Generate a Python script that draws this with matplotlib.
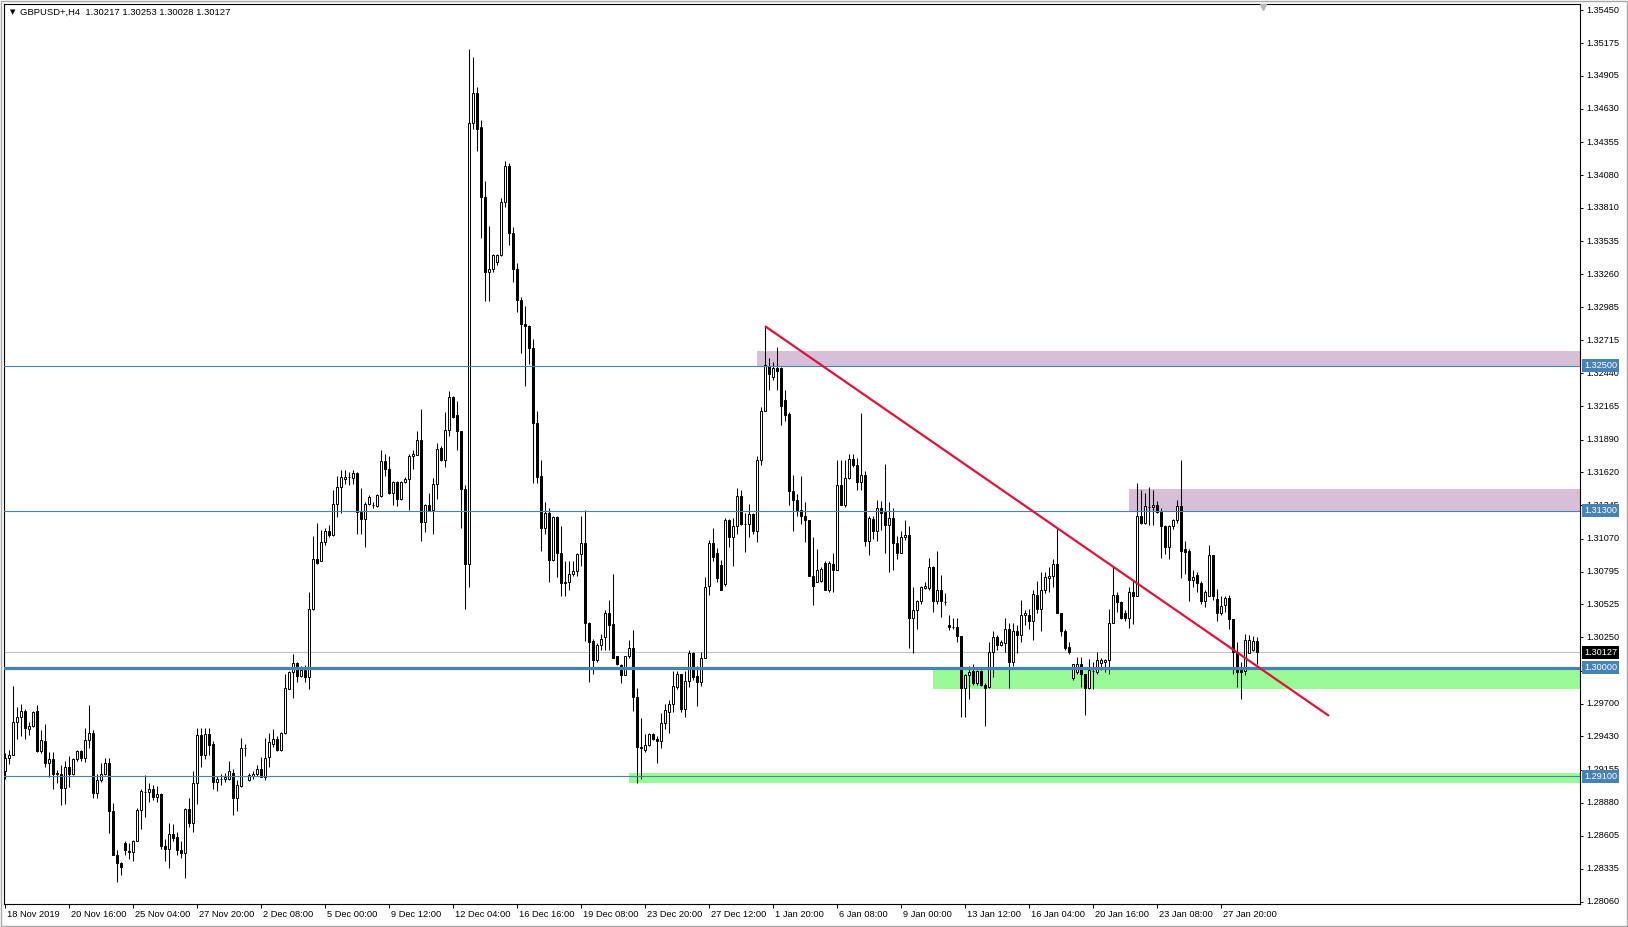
"""
GBPUSD+ H4 candlestick chart (MT4 style) with S/R levels, zones and a trendline.
Saves out.png (1628x927).
"""
import numpy as np
import matplotlib.pyplot as plt
from matplotlib import transforms
from matplotlib.patches import Rectangle

plt.rcParams['font.family'] = ['Liberation Sans', 'DejaVu Sans']

BASE, PIP = 1.2800, 0.0001   # bars below are in pips above 1.2800

# H4 bars (pips above 1.2800)
opens = [
    114, 125, 128, 155, 159, 164, 149, 152, 164, 131, 139, 121, 124, 113, 112, 100, 118, 112, 124, 131,
    125, 140, 146, 96, 107, 112, 121, 81, 45, 38, 55, 48, 47, 56, 82, 97, 97, 99, 93, 95,
    52, 50, 62, 60, 49, 46, 83, 71, 104, 144, 128, 145, 137, 105, 108, 108, 108, 113, 92, 102,
    133, 107, 110, 112, 116, 109, 126, 137, 141, 132, 146, 182, 196, 204, 193, 198, 192, 249, 290, 288,
    304, 313, 310, 336, 350, 356, 358, 357, 361, 329, 323, 336, 335, 334, 342, 371, 365, 345, 354, 340,
    354, 356, 375, 376, 389, 321, 335, 331, 352, 382, 372, 397, 424, 409, 396, 348, 286, 651, 676, 648,
    590, 528, 530, 536, 542, 586, 616, 560, 530, 505, 485, 483, 465, 403, 359, 316, 328, 289, 325, 295,
    270, 271, 278, 280, 294, 303, 237, 222, 206, 219, 225, 245, 236, 210, 202, 194, 210, 216, 176, 134,
    132, 136, 145, 141, 139, 154, 163, 170, 184, 195, 166, 189, 212, 193, 188, 208, 268, 303, 295, 285,
    269, 322, 308, 317, 342, 319, 319, 327, 313, 372, 413, 450, 441, 448, 448, 422, 410, 346, 339, 331,
    326, 322, 276, 271, 272, 287, 264, 286, 281, 351, 335, 357, 373, 368, 354, 360, 305, 323, 313, 332,
    329, 318, 324, 303, 295, 308, 310, 241, 248, 255, 266, 266, 283, 255, 264, 254, 235, 234, 234, 226,
    183, 194, 197, 187, 197, 186, 184, 213, 225, 219, 220, 232, 205, 230, 227, 244, 244, 239, 260, 249,
    264, 274, 276, 286, 245, 230, 217, 191, 196, 203, 195, 183, 197, 196, 204, 205, 206, 237, 260, 254,
    245, 241, 263, 259, 326, 320, 333, 333, 335, 329, 317, 300, 317, 322, 334, 298, 297, 273, 277, 270,
    255, 259, 293, 257, 245, 252, 258, 240, 213, 198, 197, 212, 215, 222,
]
highs = [
    129, 132, 185, 167, 170, 166, 155, 164, 169, 148, 153, 130, 130, 115, 119, 123, 127, 125, 132, 132,
    150, 169, 148, 112, 121, 125, 125, 88, 49, 39, 56, 55, 57, 84, 99, 111, 104, 103, 102, 96,
    58, 71, 70, 64, 56, 84, 92, 114, 150, 150, 150, 150, 139, 110, 112, 113, 123, 116, 107, 142,
    137, 113, 114, 119, 126, 142, 146, 149, 143, 147, 195, 197, 211, 205, 201, 202, 263, 309, 320, 314,
    316, 318, 347, 359, 364, 364, 362, 364, 362, 349, 337, 343, 337, 344, 380, 377, 375, 355, 355, 355,
    358, 377, 380, 396, 414, 336, 345, 357, 386, 384, 412, 429, 425, 421, 396, 351, 713, 706, 681, 654,
    603, 566, 543, 543, 589, 620, 618, 565, 535, 507, 500, 484, 472, 413, 372, 337, 332, 326, 326, 317,
    288, 288, 288, 295, 326, 331, 238, 224, 220, 228, 248, 256, 278, 210, 203, 210, 223, 231, 183, 158,
    145, 146, 146, 143, 162, 170, 173, 197, 197, 195, 197, 215, 213, 201, 213, 275, 306, 316, 299, 289,
    324, 323, 324, 349, 347, 328, 336, 328, 375, 416, 483, 457, 453, 466, 449, 430, 412, 360, 344, 359,
    337, 322, 308, 298, 283, 288, 288, 295, 372, 372, 372, 377, 377, 374, 411, 363, 326, 326, 339, 338,
    369, 337, 332, 309, 313, 322, 317, 267, 256, 268, 271, 291, 284, 297, 277, 262, 244, 241, 241, 226,
    195, 201, 203, 198, 198, 187, 221, 230, 227, 223, 241, 237, 237, 235, 256, 248, 249, 264, 272, 279,
    279, 283, 290, 316, 245, 232, 221, 203, 209, 209, 195, 207, 205, 213, 208, 207, 249, 284, 263, 255,
    248, 267, 272, 353, 347, 345, 350, 347, 338, 332, 318, 318, 323, 339, 372, 305, 298, 281, 279, 272,
    264, 302, 293, 265, 259, 259, 260, 240, 221, 205, 228, 227, 226, 225,
]
lows = [
    108, 120, 128, 141, 143, 141, 144, 151, 130, 129, 118, 109, 99, 104, 86, 87, 101, 111, 123, 123,
    122, 133, 92, 92, 105, 111, 63, 45, 22, 28, 45, 41, 40, 56, 66, 76, 89, 90, 89, 50,
    40, 34, 56, 45, 42, 26, 68, 64, 87, 118, 124, 128, 99, 98, 103, 105, 107, 78, 81, 101,
    127, 106, 108, 110, 109, 107, 118, 134, 131, 131, 145, 182, 175, 188, 192, 188, 182, 248, 286, 288,
    302, 308, 309, 325, 328, 352, 351, 352, 311, 311, 300, 335, 332, 333, 341, 359, 344, 335, 334, 339,
    353, 331, 365, 376, 305, 312, 330, 311, 340, 371, 366, 392, 407, 380, 316, 249, 267, 646, 628, 556,
    504, 504, 528, 534, 541, 582, 550, 520, 495, 461, 433, 452, 353, 353, 297, 311, 271, 288, 275, 259,
    259, 264, 276, 276, 284, 222, 188, 195, 205, 215, 215, 215, 208, 202, 187, 194, 208, 164, 104, 108,
    130, 135, 140, 121, 133, 149, 146, 163, 182, 163, 159, 184, 190, 168, 185, 208, 260, 288, 271, 264,
    268, 300, 284, 311, 318, 296, 308, 311, 304, 368, 413, 430, 438, 430, 401, 404, 335, 313, 326, 319,
    304, 276, 252, 271, 271, 264, 263, 263, 281, 335, 333, 356, 366, 347, 347, 301, 293, 307, 305, 314,
    295, 279, 281, 290, 295, 306, 216, 212, 232, 253, 265, 264, 246, 253, 242, 252, 231, 232, 221, 159,
    159, 174, 186, 186, 185, 152, 183, 192, 215, 218, 213, 183, 201, 212, 221, 235, 232, 223, 245, 230,
    262, 263, 267, 245, 226, 215, 211, 190, 195, 184, 161, 182, 182, 195, 198, 196, 195, 237, 246, 240,
    239, 233, 236, 259, 319, 319, 318, 318, 328, 291, 294, 290, 315, 320, 274, 278, 255, 267, 263, 253,
    250, 259, 256, 239, 244, 246, 232, 195, 184, 174, 194, 212, 214, 203,
]
closes = [
    125, 128, 155, 159, 164, 150, 152, 163, 131, 140, 121, 124, 112, 112, 100, 118, 112, 124, 131, 125,
    140, 146, 96, 107, 112, 121, 81, 45, 38, 35, 49, 47, 56, 82, 98, 97, 99, 93, 95, 52,
    50, 62, 59, 49, 46, 83, 71, 104, 144, 128, 145, 136, 105, 108, 108, 109, 114, 92, 103, 133,
    133, 111, 112, 116, 109, 125, 138, 141, 132, 146, 183, 196, 204, 193, 198, 192, 249, 290, 287, 304,
    313, 310, 336, 350, 358, 358, 358, 361, 329, 323, 336, 341, 335, 343, 371, 365, 345, 354, 340, 354,
    356, 375, 377, 389, 321, 335, 331, 352, 381, 372, 397, 424, 408, 396, 348, 286, 651, 676, 646, 590,
    528, 530, 542, 542, 586, 616, 560, 530, 505, 485, 483, 465, 403, 358, 316, 328, 289, 325, 295, 270,
    271, 278, 280, 294, 303, 237, 221, 206, 219, 224, 245, 235, 208, 203, 194, 210, 216, 176, 134, 133,
    136, 145, 141, 139, 154, 165, 170, 185, 195, 166, 189, 212, 192, 188, 208, 267, 303, 292, 274, 264,
    322, 308, 317, 342, 319, 319, 327, 313, 372, 413, 451, 443, 448, 446, 417, 409, 346, 339, 331, 326,
    322, 276, 268, 281, 282, 264, 287, 281, 351, 335, 357, 373, 368, 354, 360, 305, 324, 313, 332, 328,
    318, 324, 303, 295, 308, 310, 241, 248, 255, 267, 268, 283, 255, 264, 255, 254, 234, 234, 226, 183,
    194, 196, 187, 197, 186, 183, 213, 225, 219, 221, 232, 205, 230, 227, 244, 245, 239, 261, 249, 264,
    275, 276, 286, 245, 230, 216, 213, 203, 203, 195, 183, 198, 197, 206, 206, 206, 237, 260, 254, 241,
    241, 263, 259, 326, 320, 334, 333, 335, 329, 317, 300, 317, 322, 334, 297, 296, 273, 275, 270, 255,
    263, 293, 259, 245, 251, 258, 240, 213, 196, 196, 223, 223, 222, 213,
]

date_labels = ["18 Nov 2019", "20 Nov 16:00", "25 Nov 04:00", "27 Nov 20:00", "2 Dec 08:00",
               "5 Dec 00:00", "9 Dec 12:00", "12 Dec 04:00", "16 Dec 16:00", "19 Dec 08:00",
               "23 Dec 20:00", "27 Dec 12:00", "1 Jan 20:00", "6 Jan 08:00", "9 Jan 00:00",
               "13 Jan 12:00", "16 Jan 04:00", "20 Jan 16:00", "23 Jan 08:00", "27 Jan 20:00"]
date_bars = [0, 16, 32, 48, 64, 80, 96, 112, 128, 144, 160, 176, 192, 208, 224, 240, 256, 272, 288, 304]

price_ticks = [1.35450, 1.35175, 1.34905, 1.34630, 1.34355, 1.34080, 1.33810, 1.33535, 1.33260,
               1.32985, 1.32715, 1.32440, 1.32165, 1.31890, 1.31620, 1.31345, 1.31070, 1.30795,
               1.30525, 1.30250, 1.29975, 1.29700, 1.29430, 1.29155, 1.28880, 1.28605, 1.28335,
               1.28060]

levels = [1.3250, 1.3130, 1.2910]
key_level = 1.3000
last_price = 1.30127

# zones: start bar, lower price, upper price, colour
zone_start = [188, 281, 232, 156]
zone_low = [1.3249, 1.3130, 1.29824, 1.29046]
zone_high = [1.32624, 1.3148, 1.3000, 1.29129]
zone_color = ["#D8BFD8", "#D8BFD8", "#98FB98", "#98FB98"]

trend_bars = [190, 331]
trend_prices = [1.3283, 1.2960]

LINE_BLUE = "#4682B4"


def main():
    fig = plt.figure(figsize=(16.28, 9.27), dpi=100)
    W, H = 1628, 927
    ax = fig.add_axes([4 / W, 1 - 904 / H, 1576 / W, 900 / H])
    xmax = 393.75
    ax.set_xlim(-0.25, xmax)
    ax.set_ylim(1.28041, 1.35500)

    o = BASE + np.array(opens) * PIP
    h = BASE + np.array(highs) * PIP
    l = BASE + np.array(lows) * PIP
    c = BASE + np.array(closes) * PIP
    x = np.arange(len(c))

    # zones
    for s, lo, hi, col in zip(zone_start, zone_low, zone_high, zone_color):
        ax.add_patch(Rectangle((s, lo), xmax - s, hi - lo, facecolor=col, edgecolor="none", zorder=1))

    ax.axhline(last_price, color="#C0C0C0", lw=0.8, zorder=2)

    # candles
    ax.vlines(x, np.minimum(l, np.minimum(o, c)), np.maximum(h, np.maximum(o, c)),
              color="black", lw=0.75, zorder=3)
    up = c >= o
    ax.bar(x[up], (c - o)[up], bottom=o[up], width=0.55, facecolor="white",
           edgecolor="black", lw=0.7, zorder=4)
    ax.bar(x[~up], (o - c)[~up], bottom=c[~up], width=0.55, facecolor="black",
           edgecolor="black", lw=0.7, zorder=4)

    # levels and trendline
    for lv in levels:
        ax.axhline(lv, color=LINE_BLUE, lw=0.8, zorder=5)
    ax.axhline(key_level, color=LINE_BLUE, lw=2.3, zorder=5)
    ax.plot(trend_bars, trend_prices, color="#DC143C", lw=1.6, zorder=6, solid_capstyle="butt")

    # axes frame / ticks
    for sp in ax.spines.values():
        sp.set_color("black")
        sp.set_linewidth(0.8)
    ax.set_yticks(price_ticks)
    ax.tick_params(axis="y", direction="out", length=2.5, width=0.7, left=False, right=True,
                   labelleft=False, labelright=False)
    ax.set_xticks(date_bars)
    ax.tick_params(axis="x", direction="out", length=3, width=0.7, labelbottom=False)

    ytr = transforms.blended_transform_factory(ax.transAxes, ax.transData)
    for p in price_ticks:
        ax.text(1.0038, p, f"{p:.5f}", transform=ytr, ha="left", va="center",
                fontsize=6.6, clip_on=False)
    for b, lbl in zip(date_bars, date_labels):
        ax.text(b + 0.4, -0.0115, lbl, transform=ax.get_xaxis_transform(), ha="left",
                va="center", fontsize=6.7, clip_on=False)

    # price boxes on the right scale
    for lv in levels + [key_level]:
        ax.text(1.0027, lv, f"{lv:.5f}", transform=ytr, ha="left", va="center", fontsize=6.6,
                color="white", zorder=10, clip_on=False,
                bbox=dict(boxstyle="square,pad=0.22", fc=LINE_BLUE, ec="none"))
    ax.text(1.0027, last_price, f"{last_price:.5f}", transform=ytr, ha="left", va="center",
            fontsize=6.6, color="white", zorder=11, clip_on=False,
            bbox=dict(boxstyle="square,pad=0.22", fc="black", ec="none"))

    # chart shift marker
    ax.plot([314.6], [0.997], marker="v", ms=4.5, color="#B8B8B8",
            transform=ax.get_xaxis_transform(), clip_on=False, zorder=7)

    # header
    fig.text(10 / W, 1 - 12.5 / H, "\u25bc", fontsize=5, va="center", ha="left",
             family=["DejaVu Sans"])
    fig.text(20.5 / W, 1 - 12.5 / H, "GBPUSD+,H4  1.30217 1.30253 1.30028 1.30127",
             fontsize=6.8, va="center", ha="left")

    fig.patches.append(Rectangle((0.0005, 0.001), 0.999, 0.998, transform=fig.transFigure,
                                 fill=False, edgecolor="#A8A8A8", lw=1.0))
    fig.savefig("out.png", dpi=100, facecolor="white")


if __name__ == "__main__":
    main()
